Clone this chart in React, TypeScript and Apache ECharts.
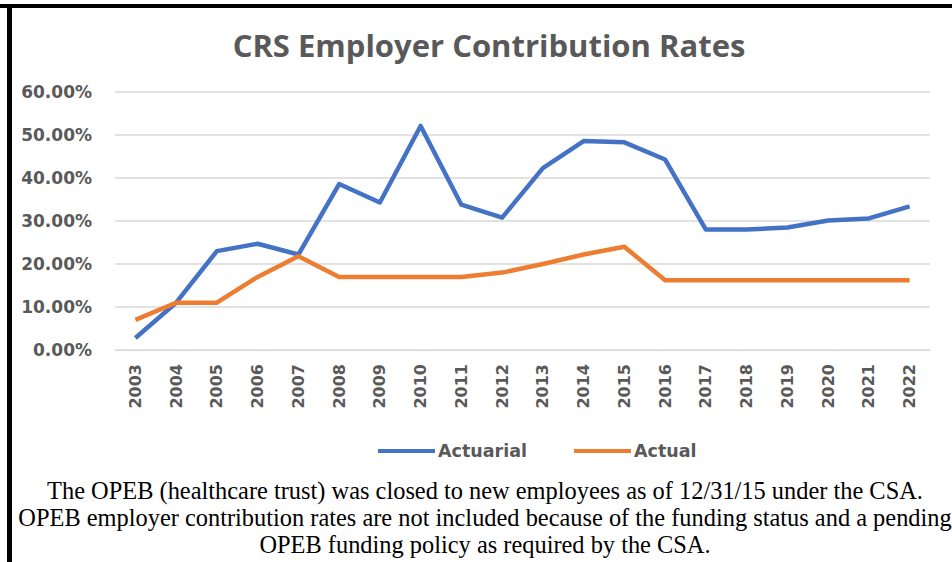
import React, { useEffect, useRef } from "react";
import * as echarts from "echarts";

const years = ["2003","2004","2005","2006","2007","2008","2009","2010","2011","2012","2013","2014","2015","2016","2017","2018","2019","2020","2021","2022"];
const actuarial = [2.8, 11.0, 23.0, 24.7, 22.2, 38.6, 34.3, 52.1, 33.8, 30.8, 42.3, 48.6, 48.3, 44.3, 28.0, 28.0, 28.5, 30.1, 30.6, 33.4];
const actual = [7.0, 11.0, 11.0, 17.0, 21.8, 17.0, 17.0, 17.0, 17.0, 18.0, 20.0, 22.2, 24.0, 16.2, 16.2, 16.2, 16.2, 16.2, 16.2, 16.2];
const seriesNames = ["Actuarial", "Actual"];
const title = "CRS Employer Contribution Rates";
const footnotes = [
  "The OPEB (healthcare trust) was closed to new employees as of 12/31/15 under the CSA.",
  "OPEB employer contribution rates are not included because of the funding status and a pending",
  "OPEB funding policy as required by the CSA.",
];

export default function App() {
  const ref = useRef<HTMLDivElement>(null);
  useEffect(() => {
    if (!ref.current) return;
    const chart = echarts.init(ref.current, null, { renderer: "svg" });
    const gray = "#595959";
    const uiFont = "'Open Sans', 'Noto Sans', sans-serif";
    const axFont = "'DejaVu Sans', sans-serif";
    chart.setOption({
      animation: false,
      backgroundColor: "#ffffff",
      title: {
        text: title,
        left: 484,
        top: 24,
        textAlign: "center",
        textStyle: { fontFamily: uiFont, fontSize: 31, fontWeight: "bold", color: gray },
      },
      legend: {
        data: seriesNames.map((n) => ({ name: n, icon: "rect" })),
        top: 437,
        left: 373,
        itemWidth: 57,
        itemHeight: 4,
        itemGap: 47,
        textStyle: { fontFamily: axFont, fontSize: 17.5, fontWeight: "bold", color: gray, padding: [0, 0, 0, -2] },
      },
      grid: { left: 115, right: 22, top: 92, bottom: 212, containLabel: false },
      xAxis: {
        type: "category",
        data: years,
        boundaryGap: true,
        axisLine: { show: true, lineStyle: { color: "#d9d9d9", width: 1 } },
        axisTick: { show: false },
        axisLabel: {
          rotate: 90,
          margin: 14,
          interval: 0,
          fontFamily: axFont,
          fontSize: 16,
          fontWeight: "bold",
          color: gray,
        },
      },
      yAxis: {
        type: "value",
        min: 0,
        max: 60,
        interval: 10,
        axisLine: { show: false },
        axisTick: { show: false },
        splitLine: { lineStyle: { color: "#d9d9d9", width: 1.5 } },
        axisLabel: {
          margin: 23,
          fontFamily: axFont,
          fontSize: 17,
          fontWeight: "bold",
          color: gray,
          formatter: (v: number) => v.toFixed(2) + "%",
        },
      },
      series: [
        {
          name: seriesNames[0],
          type: "line",
          data: actuarial,
          symbol: "none",
          lineStyle: { color: "#4472C4", width: 4.5, join: "round" },
          itemStyle: { color: "#4472C4" },
        },
        {
          name: seriesNames[1],
          type: "line",
          data: actual,
          symbol: "none",
          lineStyle: { color: "#ED7D31", width: 4.5, join: "round" },
          itemStyle: { color: "#ED7D31" },
        },
      ],
      graphic: [
        { type: "rect", shape: { x: 0, y: 4, width: 952, height: 4 }, style: { fill: "#000" }, z: 100 },
        { type: "rect", shape: { x: 7, y: 4, width: 5, height: 558 }, style: { fill: "#000" }, z: 100 },
        ...footnotes.map((t, i) => ({
          type: "text",
          x: 485,
          y: 490 + i * 27,
          style: {
            text: t,
            fontFamily: "'Liberation Serif', 'Times New Roman', serif",
            fontSize: 24.4,
            fill: "#000",
            textAlign: "center",
            textVerticalAlign: "middle",
          },
          z: 100,
        })),
      ],
    });
    return () => chart.dispose();
  }, []);
  return (
    <div
      ref={ref}
      style={{ position: "absolute", left: 0, top: 0, width: 952, height: 562, overflow: "hidden" }}
    />
  );
}
